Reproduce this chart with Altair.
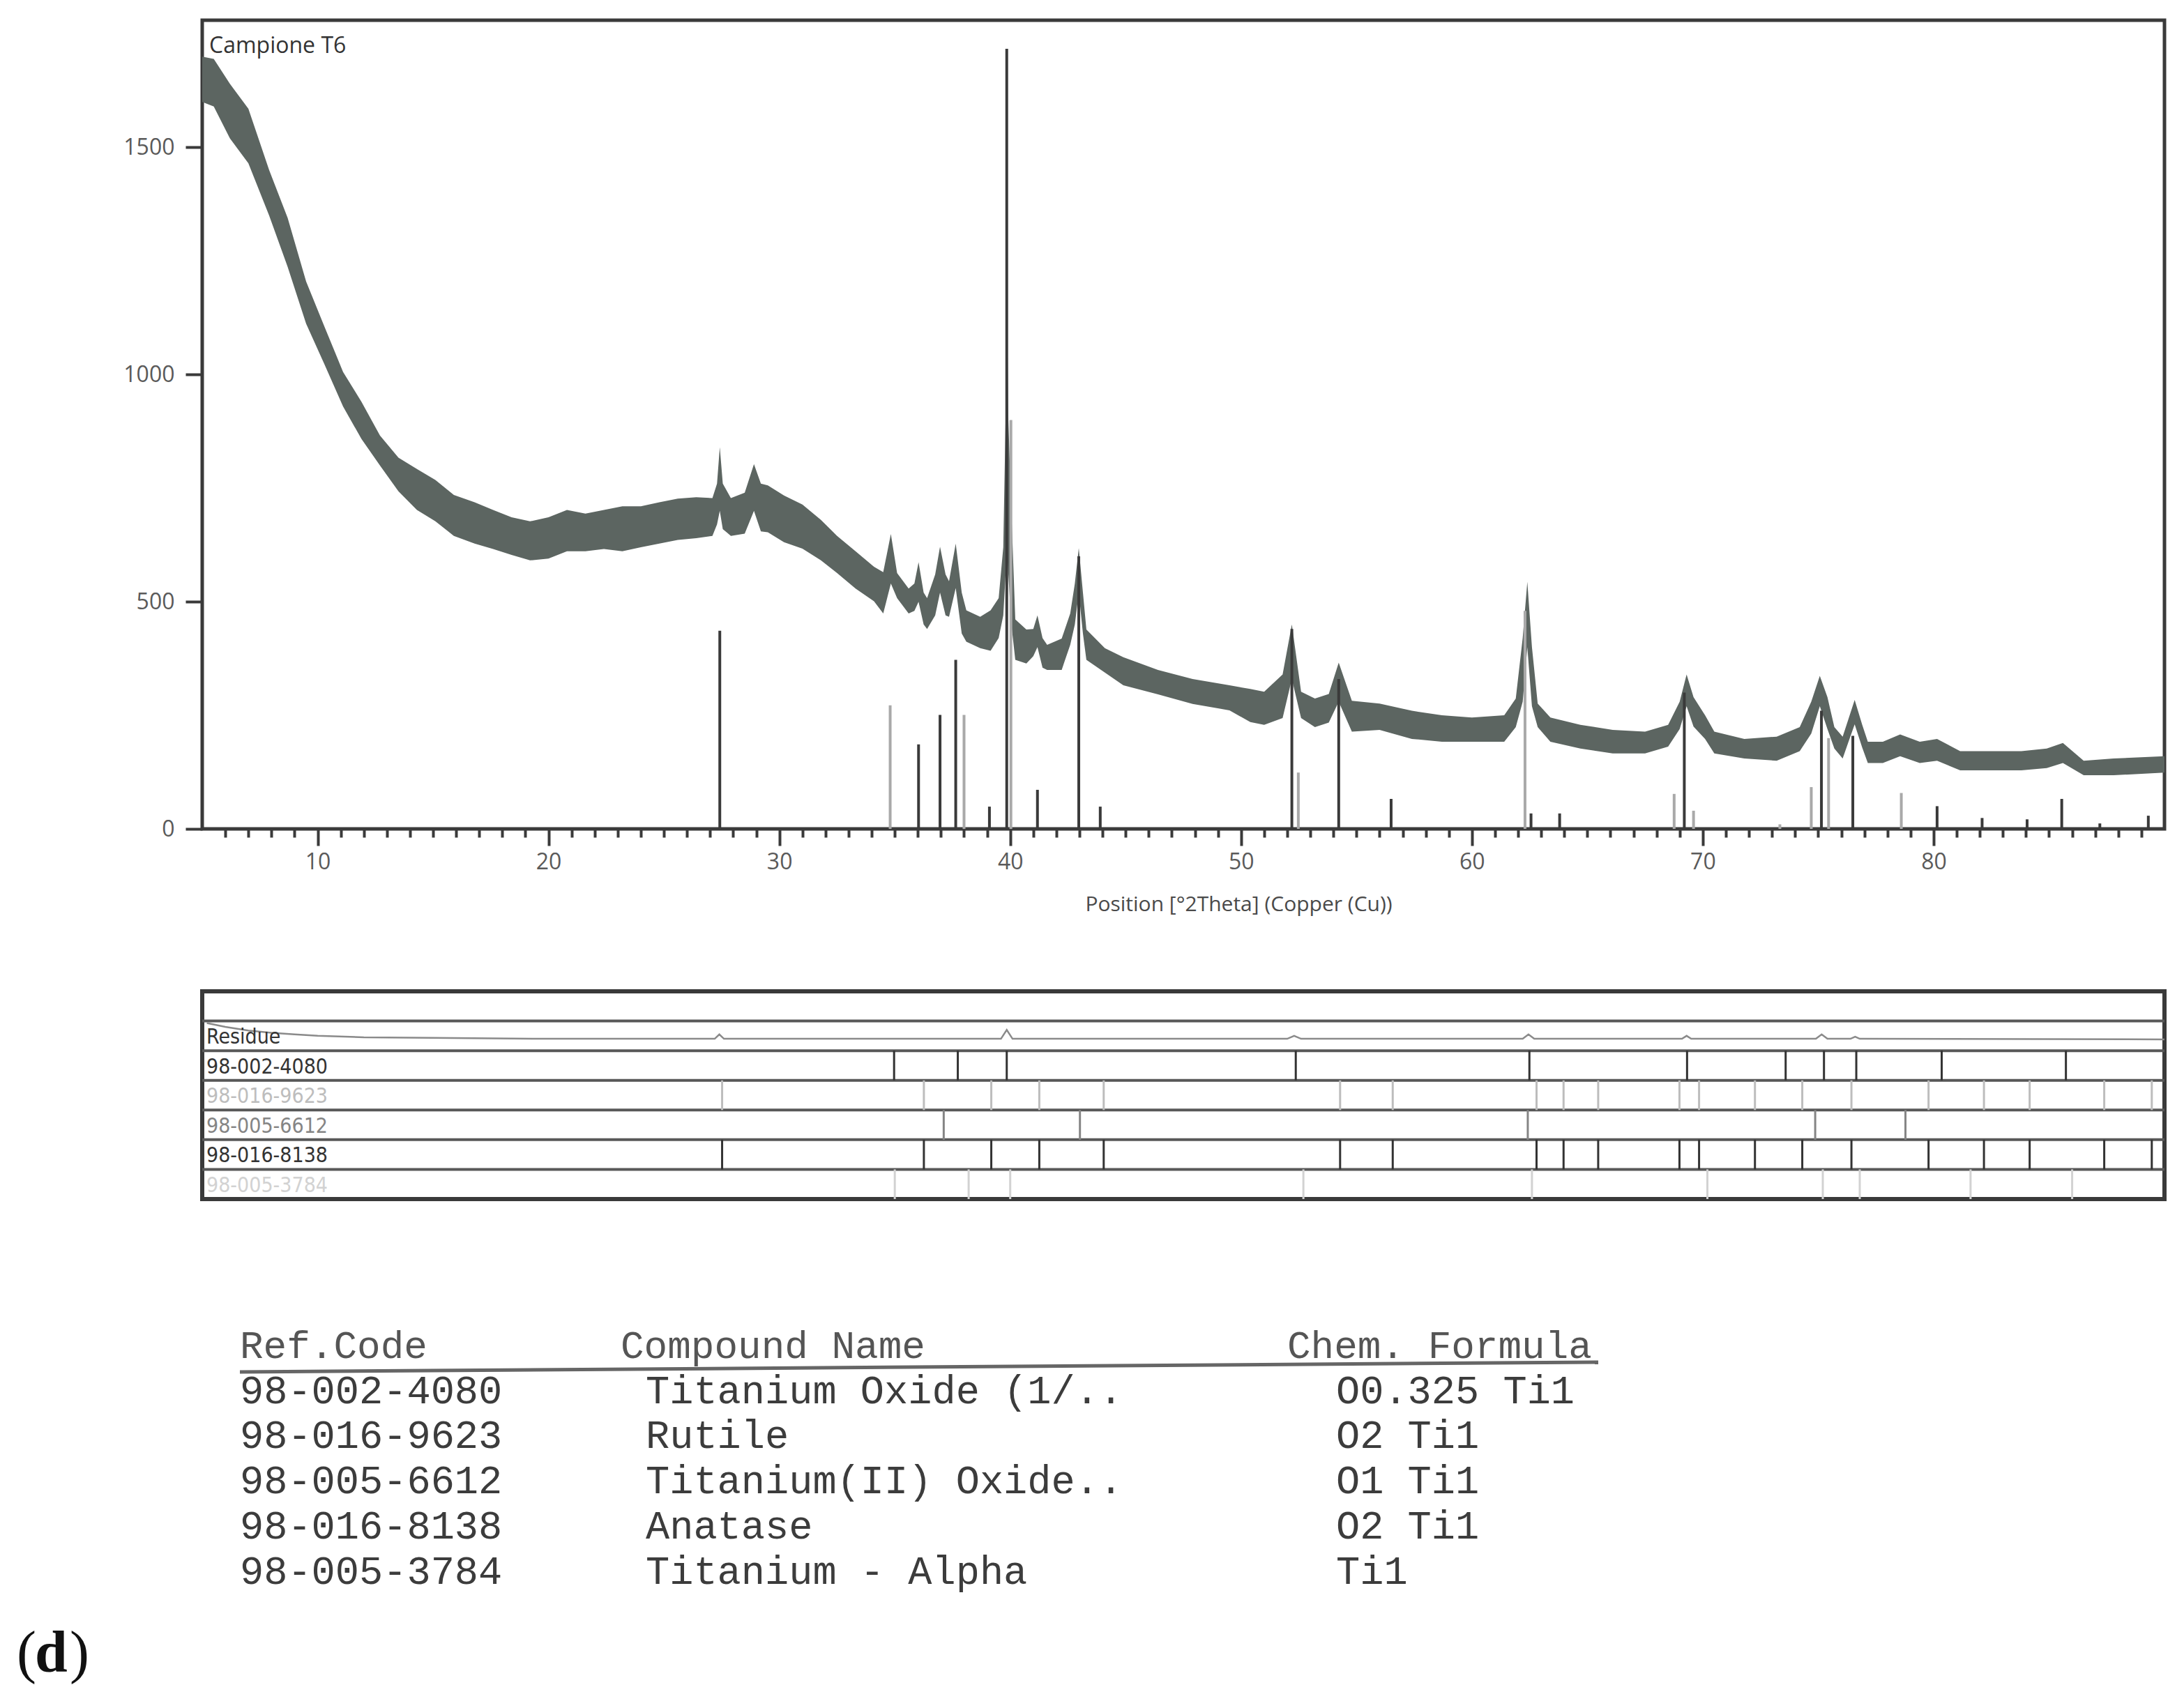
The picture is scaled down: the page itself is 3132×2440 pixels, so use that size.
import altair as alt
import pandas as pd

# ---------------- values ----------------
# measured pattern: 2Theta positions and upper / lower edge of the noisy trace
two_theta = [
    5.0, 5.5, 6.2, 7.0, 7.9, 8.7, 9.5, 10.3, 11.1, 11.9, 12.7, 13.5, 14.3, 15.1, 15.9, 16.8, 17.6, 18.4, 19.2, 20.0,
    20.8, 21.6, 22.4, 23.2, 24.0, 24.8, 25.6, 26.4, 27.1, 27.3, 27.42, 27.55, 27.9, 28.5, 28.9, 29.2, 29.5, 30.2, 31.0, 31.8,
    32.5, 33.3, 34.1, 34.5, 34.83, 35.1, 35.6, 35.85, 36.03, 36.25, 36.4, 36.75, 36.96, 37.2, 37.35, 37.64, 37.9, 38.1, 38.7, 39.15,
    39.5, 39.7, 39.8, 39.85, 39.92, 40.05, 40.22, 40.7, 41.0, 41.18, 41.4, 41.6, 42.23, 42.6, 42.8, 42.97, 43.15, 43.3, 44.1, 44.9,
    46.4, 47.9, 49.5, 50.4, 51.0, 51.8, 52.2, 52.6, 53.2, 53.8, 54.23, 54.8, 56.0, 57.4, 58.7, 60.0, 61.4, 61.9, 62.2, 62.4,
    62.6, 62.85, 63.4, 64.7, 66.1, 67.5, 68.5, 69.0, 69.3, 69.6, 70.1, 70.5, 71.8, 73.2, 74.2, 74.7, 75.07, 75.4, 75.7, 76.06,
    76.3, 76.58, 76.9, 77.15, 77.8, 78.55, 79.4, 80.15, 81.15, 82.5, 83.8, 84.9, 85.6, 86.5, 87.8, 90.0,
]
counts_upper = [
    1700, 1695, 1640, 1585, 1450, 1345, 1205, 1105, 1006, 940, 866, 817, 792, 768, 735, 719, 702, 686, 677, 686,
    702, 694, 702, 710, 710, 719, 727, 730, 728, 760, 840, 760, 728, 740, 803, 760, 756, 734, 714, 680,
    645, 611, 577, 565, 649, 563, 529, 540, 587, 520, 508, 560, 621, 560, 545, 628, 520, 481, 467, 481,
    508, 620, 900, 1210, 900, 700, 461, 439, 440, 470, 420, 405, 419, 474, 540, 618, 520, 439, 398, 378,
    350, 330, 316, 308, 302, 340, 450, 302, 287, 297, 366, 282, 276, 260, 250, 245, 250, 287, 420, 544,
    400, 276, 245, 229, 218, 214, 229, 280, 340, 290, 250, 214, 198, 203, 224, 280, 337, 290, 224, 203,
    240, 284, 230, 192, 192, 208, 192, 198, 171, 171, 171, 177, 189, 150, 155, 160,
]
counts_lower = [
    1600, 1590, 1520, 1465, 1350, 1237, 1112, 1022, 930, 858, 800, 743, 702, 677, 645, 628, 616, 603, 591, 595,
    611, 611, 616, 611, 620, 628, 636, 640, 645, 670, 700, 660, 645, 650, 700, 655, 653, 631, 617, 591,
    563, 529, 501, 474, 540, 508, 474, 480, 500, 450, 440, 470, 520, 470, 467, 530, 430, 412, 398, 392,
    420, 470, 560, 620, 560, 450, 372, 364, 380, 400, 355, 350, 350, 405, 450, 520, 430, 372, 344, 316,
    296, 275, 261, 235, 229, 244, 330, 244, 224, 234, 280, 214, 218, 198, 192, 192, 192, 224, 280, 400,
    270, 224, 192, 177, 166, 166, 181, 220, 270, 225, 198, 166, 155, 150, 171, 210, 270, 220, 177, 155,
    190, 230, 180, 145, 145, 160, 145, 150, 129, 129, 129, 134, 145, 118, 118, 124,
]

# reference sticks drawn inside the main plot
stick_pos = [27.42, 34.8, 36.03, 36.96, 37.64, 38.0, 39.1, 39.85, 40.03, 41.18, 42.97, 43.9,
             52.2, 52.48, 54.23, 56.5, 62.3, 62.56, 63.8, 68.76, 69.2, 69.6, 73.34, 74.7,
             75.14, 75.45, 76.5, 78.6, 80.15, 82.1, 84.05, 85.55, 87.2, 89.3]
stick_int = [436, 272, 186, 251, 372, 251, 49, 1717, 900, 86, 600, 49,
             440, 124, 330, 66, 480, 34, 34, 77, 300, 40, 10, 92,
             260, 200, 205, 79, 50, 24, 21, 66, 12, 29]
stick_tone = ["dark", "light", "dark", "dark", "dark", "light", "dark", "dark", "light", "dark", "dark", "dark",
              "dark", "light", "dark", "dark", "light", "dark", "dark", "light", "dark", "light", "light", "light",
              "dark", "light", "dark", "light", "dark", "dark", "dark", "dark", "dark", "dark"]

# lower panel (pattern list)
row_names = ["Residue", "98-002-4080", "98-016-9623", "98-005-6612", "98-016-8138", "98-005-3784"]
row_colors = ["#333333", "#333333", "#bdbdbd", "#858585", "#333333", "#d2d2d2"]
pos_4080 = [34.97, 37.73, 39.85, 52.37, 62.49, 69.32, 73.59, 75.25, 76.65, 80.35, 85.73]
pos_9623 = [27.52, 36.26, 39.18, 41.26, 44.05, 54.29, 56.57, 62.8, 63.97, 65.47, 68.99, 69.84,
            72.26, 74.31, 76.44, 79.78, 82.18, 84.16, 87.39, 89.45]
pos_6612 = [37.12, 43.02, 62.42, 74.87, 78.78]
pos_8138 = [27.52, 36.26, 39.18, 41.26, 44.05, 54.29, 56.57, 62.8, 63.97, 65.47, 68.99, 69.84,
            72.26, 74.31, 76.44, 79.78, 82.18, 84.16, 87.39, 89.45]
pos_3784 = [35.0, 38.2, 40.0, 52.7, 62.6, 70.2, 75.2, 76.8, 81.6, 86.0]
residue_x = [5.2, 6.0, 7.0, 8.0, 9.0, 10.0, 12.0, 15.0, 20.0, 27.2, 27.4, 27.6, 39.6, 39.85, 40.1,
             52.0, 52.3, 52.6, 62.2, 62.45, 62.7, 69.1, 69.3, 69.5, 74.9, 75.15, 75.4, 76.4, 76.6, 76.8, 90.0]
residue_y = [1.07, 1.2, 1.32, 1.4, 1.45, 1.5, 1.55, 1.57, 1.6, 1.6, 1.45, 1.6, 1.6, 1.3, 1.6,
             1.6, 1.5, 1.6, 1.6, 1.45, 1.6, 1.6, 1.5, 1.6, 1.6, 1.45, 1.6, 1.6, 1.53, 1.6, 1.62]

# table under the chart
tbl_header = ["Ref.Code", "Compound Name", "Chem. Formula"]
tbl_codes = ["98-002-4080", "98-016-9623", "98-005-6612", "98-016-8138", "98-005-3784"]
tbl_names = ["Titanium Oxide (1/..", "Rutile", "Titanium(II) Oxide..", "Anatase", "Titanium - Alpha"]
tbl_formulas = ["O0.325 Ti1", "O2 Ti1", "O1 Ti1", "O2 Ti1", "Ti1"]
panel_letter_parts = ["(", "d", ")"]

# ---------------- layout (pixels) ----------------
PW, PH = 2814, 1160        # main plot area
LH = 298                   # pattern-list panel
SPACING = 104
TABLE_TOP = 1722 + 3 + SPACING
TH = 2425 - TABLE_TOP
PLOT_LEFT = 290


def ty(abs_y):
    return abs_y - TABLE_TOP


def tx(abs_x):
    return abs_x - PLOT_LEFT


BAND = "#5c6561"
DARK = "#3a3a3a"
LABEL = "#5a5a5a"

# ---------------- main plot ----------------
xs = alt.Scale(domain=[5, 90], nice=False, zero=False)
ys = alt.Scale(domain=[0, 1780], nice=False)

major_axis = alt.Axis(values=[10, 20, 30, 40, 50, 60, 70, 80], orient="bottom", tickSize=24, tickWidth=4,
                      tickColor=DARK, domain=False, grid=False, labelFontSize=32, labelColor=LABEL,
                      labelFont="Open Sans", labelPadding=8, titleFont="Open Sans", titleFontSize=30,
                      titleFontWeight="normal", titleColor="#4a4a4a", titlePadding=30, titleX=1486, format="d")
minor_axis = alt.Axis(values=[v for v in range(6, 90) if v % 10 != 0], orient="bottom", tickSize=12,
                      tickWidth=4, tickColor=DARK, labels=False, domain=False, grid=False)
y_axis = alt.Axis(values=[0, 500, 1000, 1500], tickSize=24, tickWidth=4, tickColor=DARK, domain=False,
                  grid=False, labelFontSize=32, labelColor=LABEL, labelFont="Open Sans", labelPadding=16,
                  format="d")

df = pd.DataFrame({"x": two_theta, "upper": counts_upper, "lower": counts_lower})
band = alt.Chart(df).mark_area(color=BAND, opacity=1).encode(
    x=alt.X("x:Q", scale=xs, axis=major_axis, title="Position [°2Theta] (Copper (Cu))"),
    y=alt.Y("upper:Q", scale=ys, axis=y_axis, title=None),
    y2="lower:Q",
)

sdf = pd.DataFrame({"pos": stick_pos, "int": stick_int, "tone": stick_tone, "base": [0] * len(stick_pos)})
sticks = alt.Chart(sdf).mark_rule(strokeWidth=4).encode(
    x=alt.X("pos:Q", scale=xs, axis=None),
    y=alt.Y("int:Q", scale=ys, axis=y_axis, title=None),
    y2="base:Q",
    color=alt.Color("tone:N", scale=alt.Scale(domain=["dark", "light"], range=["#3a3a3a", "#a9a9a9"]),
                    legend=None),
)

name_df = pd.DataFrame({"x": [5], "y": [1780], "t": ["Campione T6"]})
sample_name = alt.Chart(name_df).mark_text(align="left", baseline="top", dx=10, dy=22, fontSize=32,
                                           font="Open Sans", color="#333333").encode(
    x=alt.X("x:Q", scale=xs, axis=None),
    y=alt.Y("y:Q", scale=ys, axis=y_axis, title=None),
    text="t:N",
)

minor_df = pd.DataFrame({"x": [5]})
minor = alt.Chart(minor_df).mark_rule(opacity=0).encode(
    x=alt.X("x:Q", scale=xs, axis=minor_axis, title=None),
)

top = alt.layer(band, sticks, sample_name, minor).resolve_axis(x="independent").properties(
    width=PW, height=PH, view=alt.ViewBackground(stroke=DARK, strokeWidth=5))

# ---------------- pattern-list panel ----------------
xl = alt.Scale(domain=[5, 90], nice=False, zero=False)
yl = alt.Scale(domain=[0, 7], reverse=True, nice=False, zero=False)

sep_df = pd.DataFrame({"r": [1, 2, 3, 4, 5, 6]})
seps = alt.Chart(sep_df).mark_rule(color="#585858", strokeWidth=4).encode(
    y=alt.Y("r:Q", scale=yl, axis=None))

rows = []
for ri, plist in [(2, pos_4080), (3, pos_9623), (4, pos_6612), (5, pos_8138), (6, pos_3784)]:
    for p in plist:
        rows.append({"pos": p, "r0": ri, "r1": ri + 1, "row": row_names[ri - 1]})
ldf = pd.DataFrame(rows)
lsticks = alt.Chart(ldf).mark_rule(strokeWidth=3).encode(
    x=alt.X("pos:Q", scale=xl, axis=None),
    y=alt.Y("r0:Q", scale=yl, axis=None),
    y2="r1:Q",
    color=alt.Color("row:N", scale=alt.Scale(domain=row_names, range=row_colors), legend=None),
)

rdf = pd.DataFrame({"x": residue_x, "y": residue_y})
residue = alt.Chart(rdf).mark_line(color="#8a8a8a", strokeWidth=2.5).encode(
    x=alt.X("x:Q", scale=xl, axis=None),
    y=alt.Y("y:Q", scale=yl, axis=None),
)

lab_df = pd.DataFrame({"x": [5] * 6, "y": [i + 1.55 for i in range(6)], "t": row_names})
labels = alt.Chart(lab_df).mark_text(align="left", baseline="middle", dx=6, fontSize=30,
                                     font="DejaVu Sans Condensed, Roboto Condensed, Open Sans").encode(
    x=alt.X("x:Q", scale=xl, axis=None),
    y=alt.Y("y:Q", scale=yl, axis=None),
    text="t:N",
    color=alt.Color("t:N", scale=alt.Scale(domain=row_names, range=row_colors), legend=None),
)

lower = alt.layer(seps, residue, lsticks, labels).resolve_scale(color="independent").properties(
    width=PW, height=LH, view=alt.ViewBackground(stroke=DARK, strokeWidth=6))

# ---------------- table ----------------
txs = alt.Scale(domain=[0, PW], nice=False, zero=False)
tys = alt.Scale(domain=[0, TH], reverse=True, nice=False, zero=False)

head_df = pd.DataFrame({"x": [tx(344), tx(890), tx(1846)], "y": [ty(1948)] * 3, "t": tbl_header})
head = alt.Chart(head_df).mark_text(align="left", baseline="alphabetic", fontSize=56, font="Liberation Mono",
                                    color="#555555").encode(
    x=alt.X("x:Q", scale=txs, axis=None), y=alt.Y("y:Q", scale=tys, axis=None), text="t:N")

line_df = pd.DataFrame({"x": [tx(344), tx(2292)], "y": [ty(1968), ty(1954)]})
uline = alt.Chart(line_df).mark_line(color="#666666", strokeWidth=5).encode(
    x=alt.X("x:Q", scale=txs, axis=None), y=alt.Y("y:Q", scale=tys, axis=None))

base_rows = [2013, 2077, 2142, 2207, 2272]
body = []
for i in range(5):
    body.append({"x": tx(344), "y": ty(base_rows[i]), "t": tbl_codes[i]})
    body.append({"x": tx(926), "y": ty(base_rows[i]), "t": tbl_names[i]})
    body.append({"x": tx(1916), "y": ty(base_rows[i]), "t": tbl_formulas[i]})
body_df = pd.DataFrame(body)
body_txt = alt.Chart(body_df).mark_text(align="left", baseline="alphabetic", fontSize=57,
                                        font="Liberation Mono", color="#3c3c3c").encode(
    x=alt.X("x:Q", scale=txs, axis=None), y=alt.Y("y:Q", scale=tys, axis=None), text="t:N")

d_df = pd.DataFrame({"x": [tx(24), tx(50), tx(100)], "y": [ty(2398)] * 3, "t": panel_letter_parts,
                     "w": ["normal", "bold", "normal"]})
d_paren = alt.Chart(d_df).transform_filter("datum.w == 'normal'").mark_text(
    align="left", baseline="alphabetic", fontSize=84, font="Liberation Serif", color="#111111").encode(
    x=alt.X("x:Q", scale=txs, axis=None), y=alt.Y("y:Q", scale=tys, axis=None), text="t:N")
d_letter = alt.Chart(d_df).transform_filter("datum.w == 'bold'").mark_text(
    align="left", baseline="alphabetic", fontSize=84, font="Liberation Serif", fontWeight="bold",
    color="#111111").encode(
    x=alt.X("x:Q", scale=txs, axis=None), y=alt.Y("y:Q", scale=tys, axis=None), text="t:N")

table = alt.layer(head, uline, body_txt, d_paren, d_letter).properties(
    width=PW, height=TH, view=alt.ViewBackground(strokeOpacity=0))

chart = alt.vconcat(top, lower, table, spacing=SPACING).properties(
    padding={"left": 16, "top": 18, "right": 5, "bottom": 5}, background="white")

chart.save("out.html", embed_options={"renderer": "svg", "actions": False})
